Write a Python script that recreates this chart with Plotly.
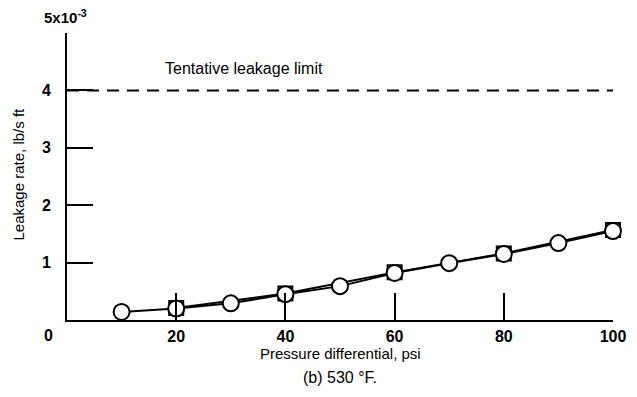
import plotly.graph_objects as go

# Data (leakage rate in units of 1e-3 lb/s ft)
circle_x = [10, 20, 30, 40, 50, 60, 70, 80, 90, 100]
circle_y = [0.14, 0.20, 0.29, 0.45, 0.59, 0.82, 0.99, 1.15, 1.34, 1.55]
square_x = [20, 40, 60, 80, 100]
square_y = [0.21, 0.46, 0.83, 1.16, 1.57]
limit_x = [0, 100]
limit_y = [4, 4]
x_ticks = [20, 40, 60, 80, 100]
y_ticks = [1, 2, 3, 4, 5]
y_ticktext = ["1", "2", "3", "4", " "]

FONT = "Liberation Sans, Arial, sans-serif"

fig = go.Figure()
fig.add_trace(go.Scatter(x=limit_x, y=limit_y, mode="lines",
                         line=dict(color="black", width=2, dash="12px,8px"),
                         showlegend=False, cliponaxis=False))
fig.add_trace(go.Scatter(x=square_x, y=square_y, mode="lines+markers",
                         line=dict(color="black", width=2),
                         marker=dict(symbol="square", size=14, color="white",
                                     line=dict(color="black", width=2)),
                         showlegend=False, cliponaxis=False))
fig.add_trace(go.Scatter(x=circle_x, y=circle_y, mode="lines+markers",
                         line=dict(color="black", width=2),
                         marker=dict(symbol="circle", size=16, color="white",
                                     line=dict(color="black", width=2)),
                         showlegend=False, cliponaxis=False))

fig.update_layout(
    width=637, height=397,
    margin=dict(l=59, r=32, t=25, b=85),
    paper_bgcolor="white", plot_bgcolor="white",
    font=dict(family=FONT, size=15, color="black"),
    xaxis=dict(range=[0, 100], tickvals=x_ticks, ticks="inside", ticklen=27,
               tickwidth=2, tickcolor="black", showline=True, linewidth=2,
               linecolor="black", showgrid=False, zeroline=False,
               tickfont=dict(family=FONT, size=16, weight="bold"),
               ticklabelstandoff=1),
    yaxis=dict(range=[0, 5], tickvals=y_ticks, ticktext=y_ticktext,
               ticks="inside", ticklen=26, tickwidth=2, tickcolor="black",
               showline=True, linewidth=2, linecolor="black", showgrid=False,
               zeroline=False,
               tickfont=dict(family=FONT, size=16, weight="bold"),
               ticklabelstandoff=11),
    annotations=[
        dict(text="0", xref="paper", yref="paper", x=0, y=0, xshift=-19, yshift=-15,
             xanchor="center", yanchor="middle",
             showarrow=False, font=dict(size=16, weight="bold")),
        dict(text="5x10<sup>-3</sup>", xref="paper", yref="paper", x=0, y=1,
             xanchor="left", yanchor="middle", xshift=-25, yshift=17, showarrow=False,
             font=dict(size=15, weight="bold")),
        dict(text="Leakage rate, lb/s ft", xref="paper", yref="paper", x=0, y=0.5,
             xanchor="center", yanchor="middle",
             xshift=-49, yshift=2, textangle=-90, showarrow=False, font=dict(size=15)),
        dict(text="Pressure differential, psi", xref="paper", yref="paper", x=0.5, y=0,
             xanchor="center", yanchor="middle",
             yshift=-33, showarrow=False, font=dict(size=15)),
        dict(text="(b) 530 °F.", xref="paper", yref="paper", x=0.5, y=0,
             xanchor="center", yanchor="middle",
             yshift=-57, showarrow=False, font=dict(size=16)),
        dict(text="Tentative leakage limit", x=17.6, y=4.39, xanchor="left",
             yanchor="middle", showarrow=False, font=dict(size=16)),
    ],
)

fig.write_html("out.html")
